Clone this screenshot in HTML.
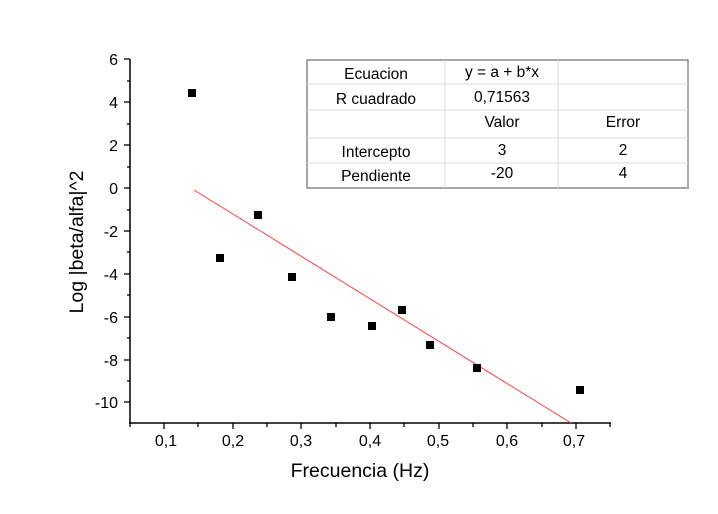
<!DOCTYPE html>
<html><head><style>body{margin:0;background:#fff}svg text{font-family:"Liberation Sans",Arial,sans-serif}</style></head><body>
<svg width="718" height="509" xmlns="http://www.w3.org/2000/svg">
<g stroke="#000" stroke-width="1.5" fill="none">
<line x1="130" y1="59" x2="130" y2="424"/>
<line x1="129" y1="423" x2="611" y2="423"/>
</g>
<g stroke="#000" stroke-width="1.3">
<line x1="124" y1="59" x2="130" y2="59"/><line x1="124" y1="102" x2="130" y2="102"/><line x1="124" y1="145" x2="130" y2="145"/><line x1="124" y1="188" x2="130" y2="188"/><line x1="124" y1="231" x2="130" y2="231"/><line x1="124" y1="274" x2="130" y2="274"/><line x1="124" y1="317" x2="130" y2="317"/><line x1="124" y1="360" x2="130" y2="360"/><line x1="124" y1="402" x2="130" y2="402"/>
<line x1="127" y1="81" x2="130" y2="81"/><line x1="127" y1="124" x2="130" y2="124"/><line x1="127" y1="167" x2="130" y2="167"/><line x1="127" y1="210" x2="130" y2="210"/><line x1="127" y1="252" x2="130" y2="252"/><line x1="127" y1="295" x2="130" y2="295"/><line x1="127" y1="338" x2="130" y2="338"/><line x1="127" y1="381" x2="130" y2="381"/>
<line x1="164" y1="423" x2="164" y2="429"/><line x1="233" y1="423" x2="233" y2="429"/><line x1="301" y1="423" x2="301" y2="429"/><line x1="370" y1="423" x2="370" y2="429"/><line x1="439" y1="423" x2="439" y2="429"/><line x1="507" y1="423" x2="507" y2="429"/><line x1="576" y1="423" x2="576" y2="429"/>
<line x1="130" y1="423" x2="130" y2="427"/><line x1="198" y1="423" x2="198" y2="427"/><line x1="267" y1="423" x2="267" y2="427"/><line x1="336" y1="423" x2="336" y2="427"/><line x1="404" y1="423" x2="404" y2="427"/><line x1="473" y1="423" x2="473" y2="427"/><line x1="542" y1="423" x2="542" y2="427"/><line x1="610" y1="423" x2="610" y2="427"/>
</g>
<g font-size="16" text-anchor="end" fill="#000">
<text x="118" y="65">6</text><text x="118" y="108">4</text><text x="118" y="151">2</text><text x="118" y="194">0</text><text x="118" y="237">-2</text><text x="118" y="280">-4</text><text x="118" y="323">-6</text><text x="118" y="366">-8</text><text x="118" y="408">-10</text>
</g>
<g font-size="16" text-anchor="middle" fill="#000">
<text x="166" y="446">0,1</text><text x="233" y="446">0,2</text><text x="301" y="446">0,3</text><text x="370" y="446">0,4</text><text x="438" y="446">0,5</text><text x="507" y="446">0,6</text><text x="574" y="446">0,7</text>
</g>
<text x="360" y="477" font-size="19.5" text-anchor="middle">Frecuencia (Hz)</text>
<text transform="translate(83,242) rotate(-90)" font-size="19.5" text-anchor="middle">Log |beta/alfa|^2</text>
<line x1="194" y1="190" x2="571" y2="423" stroke="#ff3b3b" stroke-width="1"/>
<g fill="#000">
<rect x="188" y="89" width="8" height="8"/><rect x="216" y="254" width="8" height="8"/><rect x="254" y="211" width="8" height="8"/><rect x="288" y="273" width="8" height="8"/><rect x="327" y="313" width="8" height="8"/><rect x="368" y="322" width="8" height="8"/><rect x="398" y="306" width="8" height="8"/><rect x="426" y="341" width="8" height="8"/><rect x="473" y="364" width="8" height="8"/><rect x="576" y="386" width="8" height="8"/>
</g>
<rect x="307" y="60" width="381" height="128" fill="#fff" stroke="#777" stroke-width="1.3"/>
<line x1="688" y1="62" x2="688" y2="189" stroke="#aaa" stroke-width="2"/>
<g stroke="#ddd" stroke-width="1">
<line x1="307" y1="84" x2="688" y2="84"/><line x1="307" y1="110" x2="688" y2="110"/><line x1="307" y1="138" x2="688" y2="138"/><line x1="307" y1="163" x2="688" y2="163"/>
<line x1="445" y1="60" x2="445" y2="188"/><line x1="558" y1="60" x2="558" y2="188"/>
</g>
<g font-size="15.5" text-anchor="middle" fill="#000">
<text x="376" y="79">Ecuacion</text><text x="502" y="77">y = a + b*x</text>
<text x="376" y="104">R cuadrado</text><text x="502" y="102">0,71563</text>
<text x="502" y="127">Valor</text><text x="623" y="127">Error</text>
<text x="376" y="157">Intercepto</text><text x="502" y="155">3</text><text x="623" y="155">2</text>
<text x="376" y="181">Pendiente</text><text x="502" y="178">-20</text><text x="623" y="178">4</text>
</g>
</svg>
</body></html>
